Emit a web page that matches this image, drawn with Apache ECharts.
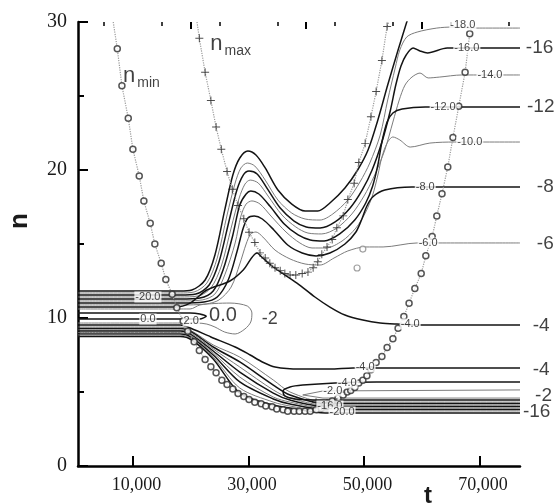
<!DOCTYPE html>
<html><head><meta charset="utf-8">
<script src="https://cdn.jsdelivr.net/npm/echarts@6/dist/echarts.min.js"></script>
<style>html,body{margin:0;padding:0;background:#fff}#c{width:556px;height:503px}</style>
</head><body><div id="c"></div>
<script>
// ---- axis ticks ----
const xLabelTicks = [10000, 30000, 50000, 70000];
const xMidTicks = [20000, 40000, 60000];
const xMinorTicks = [5000, 15000, 25000, 35000, 45000, 55000, 65000, 75000];

// ---- contour lines, points as [t, n] ----
const c_m20 = [[500,11.82],[18100,11.82],[20200,11.89],[22500,12.57],[24200,14.26],[25900,17.3],[27300,19.66],[28500,20.81],[29900,21.28],[31300,21.01],[32900,20.14],[35100,18.65],[37500,17.7],[39800,17.23],[42000,17.23],[44100,17.77],[46700,18.78],[48900,20.0],[50700,21.35],[52400,23.38],[54100,25.74],[55900,28.11],[57400,30.0],[58300,31.15]];
const c_m18 = [[500,11.69],[18200,11.69],[20600,11.76],[22800,12.36],[24600,14.05],[26300,16.96],[27700,19.12],[28700,20.14],[29800,20.47],[31100,20.27],[32900,19.32],[35100,17.97],[37500,17.09],[39800,16.69],[42400,16.62],[44600,17.03],[47200,17.97],[49300,19.19],[51000,20.47],[52800,22.36],[54100,24.73],[55400,26.89],[56200,28.11],[57400,28.99],[59200,29.32],[62600,29.59],[65400,29.66],[69500,29.59],[77000,29.59]];
const c_m16 = [[500,11.55],[18200,11.55],[20900,11.62],[23200,12.23],[24900,13.78],[26600,16.49],[28000,18.65],[29100,19.66],[30100,19.93],[31500,19.73],[33200,18.78],[35500,17.43],[37900,16.55],[40000,16.15],[42400,16.08],[45000,16.49],[47600,17.43],[49700,18.65],[51400,20.0],[53100,21.89],[54500,23.92],[55500,25.74],[56400,27.03],[57300,27.77],[58500,28.24],[59700,28.04],[61000,27.91],[64400,28.24],[77000,28.24]];
const c_m14 = [[500,11.42],[18200,11.42],[21300,11.49],[23500,12.03],[25300,13.51],[27000,16.08],[28400,18.11],[29400,19.05],[30300,19.32],[31700,19.12],[33400,18.24],[35800,16.96],[38200,16.15],[40300,15.74],[42700,15.68],[45300,16.08],[47900,17.03],[50000,18.24],[51700,19.53],[53600,21.35],[55000,23.24],[56100,24.73],[57100,25.74],[58300,26.28],[59700,26.55],[61100,26.22],[63100,26.28],[66900,26.42],[77000,26.42]];
const c_m12 = [[500,11.28],[18200,11.28],[21600,11.35],[23900,11.82],[25600,13.24],[27300,15.61],[28500,17.64],[29600,18.38],[30400,18.58],[31800,18.38],[33700,17.57],[36200,16.35],[38600,15.61],[40700,15.27],[43100,15.2],[45800,15.68],[48400,16.62],[50300,17.77],[51500,18.92],[52400,20.34],[53100,21.89],[54000,23.24],[55000,23.85],[56600,24.12],[60600,24.26],[77000,24.26]];
const c_m10 = [[500,11.15],[18200,11.15],[22000,11.22],[24200,11.62],[25900,12.91],[27700,15.07],[28700,16.89],[29600,17.7],[30600,17.91],[32000,17.7],[33900,16.89],[36500,15.81],[38900,15.07],[41000,14.73],[43400,14.73],[46200,15.2],[48600,16.08],[50300,17.16],[51500,18.31],[52400,19.66],[53100,20.88],[54000,21.82],[55000,22.23],[56200,22.03],[58000,21.55],[61400,21.82],[65700,21.89],[77000,21.89]];
const c_m8 = [[500,11.01],[18200,11.01],[22300,11.08],[24600,11.42],[26500,12.57],[28000,14.46],[29100,16.08],[29900,16.76],[31000,16.89],[32400,16.69],[34400,15.95],[36800,14.93],[39300,14.39],[41700,14.19],[44100,14.39],[46700,15.0],[48600,15.81],[49700,16.76],[50500,17.57],[51500,18.18],[53600,18.65],[58300,18.85],[77000,18.85]];
const c_m6 = [[500,10.88],[18200,10.88],[22700,10.95],[24900,11.22],[27000,12.09],[28500,13.65],[29600,15.0],[30400,15.68],[31300,15.81],[32500,15.47],[34600,14.59],[37200,13.99],[39800,13.65],[42400,13.58],[44800,14.05],[47200,14.53],[50200,14.8],[53300,14.8],[59200,15.07],[77000,15.07]];
const c_m4_upper = [[500,10.74],[17300,10.74],[19900,11.01],[22800,11.89],[26800,12.5],[29100,13.24],[31500,14.39],[32300,14.12],[34300,13.45],[38400,12.36],[41500,11.42],[44100,10.74],[46700,10.2],[49800,9.86],[52800,9.66],[55700,9.59],[60200,9.53],[77000,9.53]];
const c_m2_bubble = [[500,10.61],[19900,10.61],[21600,10.88],[24200,10.98],[26800,11.01],[29800,10.81],[30600,10.34],[30400,9.73],[29400,9.26],[27700,8.92],[25900,9.05],[24200,9.39],[22800,9.59],[21100,9.66],[500,9.66]];
const c_0_loop = [[500,10.34],[19900,10.34],[21600,10.27],[22700,10.12],[21600,9.93],[19900,9.93],[500,9.93]];
const c_m4_lower = [[500,9.53],[18200,9.53],[19500,9.39],[23500,8.72],[27700,8.04],[30300,7.5],[32400,7.03],[34600,6.69],[38900,6.55],[44100,6.55],[48100,6.62],[77000,6.62]];
const c_m4_loop = [[77000,5.68],[52200,5.68],[45000,5.61],[39400,5.47],[37200,5.34],[36000,5.07],[36300,4.73],[38100,4.53],[42400,4.46],[77000,4.46]];
const c_m2_vee = [[77000,5.14],[42900,5.07],[39400,4.8],[42900,4.59],[77000,4.59]];

// lower fan (-6 ... -20): shared t stations, n values per line
const lowerT = [500, 18200, 20200, 23900, 28500, 34300, 37200, 43300, 77000];
const low_m6  = [9.39, 9.39, 9.12, 8.18, 7.36, 5.81, 5.0, 4.32, 4.32];
const low_m8  = [9.29, 9.29, 9.05, 8.04, 7.03, 5.47, 4.8, 4.22, 4.22];
const low_m10 = [9.19, 9.19, 8.95, 7.91, 6.69, 5.14, 4.59, 4.12, 4.12];
const low_m12 = [9.12, 9.12, 8.85, 7.77, 6.35, 4.93, 4.46, 4.02, 4.02];
const low_m14 = [9.02, 9.02, 8.78, 7.64, 6.01, 4.66, 4.32, 3.92, 3.92];
const low_m16 = [8.92, 8.92, 8.68, 7.5, 5.68, 4.53, 4.19, 3.82, 3.82];
const low_m18 = [8.85, 8.85, 8.58, 7.36, 5.27, 4.32, 4.05, 3.72, 3.72];
const low_m20 = [8.75, 8.75, 8.51, 7.23, 4.93, 4.12, 3.92, 3.58, 3.58];

// ---- marker curves ----
const nMin = [[7300,28.2],[8100,25.7],[9200,23.5],[10000,21.4],[11100,19.6],[11900,17.9],[13000,16.4],[13800,15.0],[14900,13.7],[15700,12.6],[16800,11.6],[17600,10.7],[18700,9.8],[19500,9.1],[20600,8.4],[21500,7.8],[22500,7.2],[23500,6.7],[24400,6.3],[25400,5.8],[26300,5.5],[27300,5.2],[28200,4.9],[29200,4.7],[30100,4.5],[31100,4.3],[32200,4.2],[33000,4.05],[34100,4.0],[34900,3.85],[36000,3.8],[36800,3.7],[37900,3.7],[38800,3.7],[39800,3.7],[40700,3.7],[41700,3.8],[42600,3.9],[43600,4.1],[44500,4.4],[45500,4.6],[46400,4.8],[47100,5.0],[47700,5.1],[48400,5.3],[49100,5.6],[49800,5.8],[50500,6.1],[51200,6.5],[52100,7.0],[53100,7.4],[54000,8.0],[55000,8.6],[55900,9.3],[56900,10.1],[57800,11.0],[58800,12.0],[59900,13.0],[60700,14.2],[61800,15.5],[62600,16.9],[63500,18.4],[64500,20.2],[65400,22.2],[66400,24.3],[67500,26.6],[68300,29.2]];
const nMinEnds = [[6600,30],[68800,30]];
const nMinStray = [[49800,14.66],[48800,13.38]];
const nMax = [[21500,28.9],[22500,26.6],[23500,24.7],[24400,22.9],[25300,21.4],[26300,19.9],[27200,18.7],[28200,17.6],[29200,16.7],[30100,15.8],[31100,15.1],[32000,14.4],[32900,14.05],[33700,13.7],[34600,13.4],[35500,13.2],[36300,13.0],[37200,12.9],[38200,12.9],[39300,13.0],[40300,13.1],[41200,13.4],[42000,13.8],[42700,14.3],[43600,14.8],[44500,15.3],[45300,16.1],[46400,16.9],[47200,18.0],[48300,19.1],[49100,20.5],[50200,21.8],[51200,23.6],[52100,25.3],[53100,27.4],[54000,29.7]];
const nMaxEnds = [[21100,30],[54300,30]];
const nMaxLow = [[41700,4.3],[42700,4.05],[43600,4.26],[44500,4.12],[45300,4.32]];

// ---- text labels: [t, n, text] ----
const inlineLabels = [[67100,29.8,'-18.0'],[67800,28.24,'-16.0'],[71800,26.42,'-14.0'],[63700,24.26,'-12.0'],[68300,21.89,'-10.0'],[60600,18.85,'-8.0'],[61100,15.07,'-6.0'],[58000,9.59,'-4.0'],[50200,6.69,'-4.0'],[47100,5.61,'-4.0'],[44600,5.07,'-2.0'],[12600,11.42,'-20.0'],[12600,9.93,'0.0'],[20100,9.8,'2.0'],[44100,4.05,'-16.0'],[46200,3.65,'-20.0']];
const bigRightLabels = [[78000,28.24,'-16'],[78200,24.3,'-12'],[79900,18.85,'-8'],[79900,15.0,'-6'],[79200,9.46,'-4'],[79200,6.5,'-4'],[79600,4.73,'-2'],[77500,3.65,'-16']];
const areaLabels = [[25600,10.2,'0.0'],[33700,9.93,'-2']];
const curveNames = [[8300,26.4,'min'],[23400,28.6,'max']];

// ---- build ----
const THICK = {color:'#141414', width:1.5};
const THIN = {color:'#7c7c7c', width:1};
function line(data, heavy, smooth){
  return {type:'line', data:data, symbol:'none', smooth: smooth===undefined?0.3:smooth, silent:true,
    lineStyle:Object.assign({}, heavy?THICK:THIN), z:2};
}
const zipT = arr => arr.map((v,i)=>[lowerT[i], v]);
const fmt = v => String(v).replace(/\B(?=(\d{3})+(?!\d))/g, ',');
const toItems = arr => arr.map(a=>({value:[a[0],a[1]], name:a[2]}));

const series = [
  line(c_m20,true), line(c_m18,false), line(c_m16,true), line(c_m14,false),
  line(c_m12,true), line(c_m10,false), line(c_m8,true), line(c_m6,false),
  line(c_m4_upper,true), line(c_m2_bubble,false), line(c_0_loop,true,0.2),
  line(c_m4_lower,true),
  line(zipT(low_m6),false), line(zipT(low_m8),true), line(zipT(low_m10),false), line(zipT(low_m12),true),
  line(zipT(low_m14),false), line(zipT(low_m16),true), line(zipT(low_m18),false), line(zipT(low_m20),true),
  line(c_m4_loop,true,0.3), line(c_m2_vee,false,0),
  // dotted guide curves
  {type:'line', data:[nMinEnds[0]].concat(nMin,[nMinEnds[1]]), symbol:'none', silent:true, z:3,
   lineStyle:{color:'#9a9a9a', width:1.2, type:'dotted'}},
  {type:'line', data:[nMaxEnds[0]].concat(nMax,[nMaxEnds[1]]), symbol:'none', silent:true, z:3,
   lineStyle:{color:'#9a9a9a', width:1.2, type:'dotted'}},
  {type:'scatter', data:nMin, symbol:'circle', symbolSize:6, silent:true, z:4,
   itemStyle:{color:'#fff', borderColor:'#2a2a2a', borderWidth:1.5}},
  {type:'scatter', data:nMinStray, symbol:'circle', symbolSize:6, silent:true, z:4,
   itemStyle:{color:'#fff', borderColor:'#8a8a8a', borderWidth:1.2}},
  {type:'scatter', data:nMax.concat(nMaxLow), symbol:'path://M4.4,0H5.6V10H4.4Z M0,4.4H10V5.6H0Z', symbolSize:8, silent:true, z:4,
   itemStyle:{color:'#222'}},
  // labels
  {type:'scatter', data:toItems(inlineLabels), symbolSize:0.1, clip:false, silent:true, z:6,
   itemStyle:{color:'transparent'},
   label:{show:true, position:'inside', formatter:p=>p.name, fontFamily:'Liberation Sans', fontSize:11,
     color:'#111', backgroundColor:'#fff', padding:[0,1]}},
  {type:'scatter', data:toItems(bigRightLabels), symbolSize:0.1, clip:false, silent:true, z:6,
   itemStyle:{color:'transparent'},
   label:{show:true, position:'right', distance:0, formatter:p=>p.name, fontFamily:'Liberation Sans', fontSize:19, color:'#111'}},
  {type:'scatter', data:[toItems(areaLabels)[0]], symbolSize:0.1, silent:true, z:6,
   itemStyle:{color:'transparent'},
   label:{show:true, position:'inside', formatter:p=>p.name, fontFamily:'Liberation Sans', fontSize:20, color:'#111'}},
  {type:'scatter', data:[toItems(areaLabels)[1]], symbolSize:0.1, silent:true, z:6,
   itemStyle:{color:'transparent'},
   label:{show:true, position:'inside', formatter:p=>p.name, fontFamily:'Liberation Sans', fontSize:18, color:'#111'}},
  {type:'scatter', data:toItems(curveNames), symbolSize:0.1, clip:false, silent:true, z:6,
   itemStyle:{color:'transparent'},
   label:{show:true, position:'right', distance:0, formatter:p=>'{a|n}{b|'+p.name+'}',
     rich:{a:{fontFamily:'Liberation Sans', fontSize:22, color:'#111', lineHeight:24, verticalAlign:'bottom'},
           b:{fontFamily:'Liberation Sans', fontSize:14, color:'#111', lineHeight:14, verticalAlign:'bottom', padding:[0,0,-3,2]}}}}
];

const chart = echarts.init(document.getElementById('c'), null, {renderer:'canvas'});
chart.setOption({
  animation:false,
  backgroundColor:'#fff',
  grid:{left:78, right:36, top:22, bottom:37},
  xAxis:[
    {type:'value', min:500, max:77000,
     axisLine:{show:true, lineStyle:{color:'#000', width:2.5}},
     axisTick:{show:true, inside:true, length:10, customValues:xLabelTicks, lineStyle:{color:'#000', width:2}},
     axisLabel:{customValues:xLabelTicks, formatter:fmt, fontFamily:'Liberation Serif', fontSize:18, color:'#1a1a1a', margin:10, padding:[0,0,0,7]},
     splitLine:{show:false}},
    {type:'value', min:500, max:77000, axisLine:{show:false},
     axisTick:{show:true, inside:true, length:7, customValues:xMidTicks, lineStyle:{color:'#000', width:2}},
     axisLabel:{show:false}, splitLine:{show:false}},
    {type:'value', min:500, max:77000, axisLine:{show:false},
     axisTick:{show:true, inside:true, length:4, customValues:xMinorTicks, lineStyle:{color:'#000', width:1.5}},
     axisLabel:{show:false}, splitLine:{show:false}}
  ],
  yAxis:{type:'value', min:0, max:30, interval:10,
    axisLine:{show:true, lineStyle:{color:'#000', width:2.5}},
    axisTick:{show:true, inside:true, length:10, lineStyle:{color:'#000', width:2}},
    minorTick:{show:true, splitNumber:2, length:6, lineStyle:{color:'#000', width:2}},
    axisLabel:{fontFamily:'Liberation Serif', fontSize:20, color:'#1a1a1a', margin:11},
    splitLine:{show:false}, minorSplitLine:{show:false}},
  graphic:[
    {type:'text', x:20, y:221, rotation:Math.PI/2, silent:true,
     style:{text:'n', font:'bold 26px "Liberation Sans"', fill:'#1a1a1a', textAlign:'center', textVerticalAlign:'middle'}},
    {type:'text', x:428, y:484, silent:true,
     style:{text:'t', font:'bold 24px "Liberation Sans"', fill:'#1a1a1a', textAlign:'center', textVerticalAlign:'top'}}
  ],
  series:series
});
</script>
</body></html>
